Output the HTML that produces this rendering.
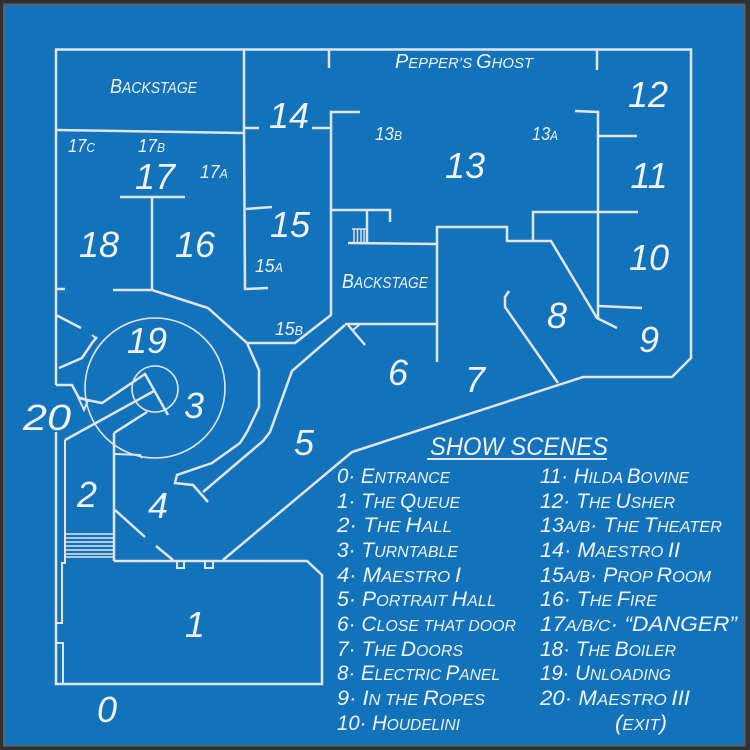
<!DOCTYPE html>
<html><head><meta charset="utf-8"><style>
html,body{margin:0;padding:0;background:#2f3133;}
svg{display:block;}
</style></head><body>
<svg width="750" height="750" viewBox="0 0 750 750" xmlns="http://www.w3.org/2000/svg">
<rect width="750" height="750" fill="#2f3133"/>
<rect x="3" y="3.5" width="742.5" height="743" fill="#5c6166"/>
<rect x="5" y="5.5" width="739" height="739.5" fill="#1273ba"/>

<g fill="none" stroke="#e2e5e8" stroke-width="2.5" stroke-linejoin="miter">
  <!-- outer wall -->
  <polyline points="56,385 56,49.5 691,49.5 691,358 672,377 583,377 352,452 223,560"/>
  <polyline points="56,432 56,684 322,684 322,575 307,561 114,561"/>
  <polyline points="65,440 65,563 62,563 62,623 56,623" stroke-width="2"/>
  <polyline points="56,643 63,643 63,684" stroke-width="2"/>
  <line x1="114" y1="433" x2="114" y2="561"/>
  <!-- stairs room 2 -->
  <g stroke-width="1.4">
    <line x1="65" y1="534" x2="114" y2="534"/>
    <line x1="65" y1="538" x2="114" y2="538"/>
    <line x1="65" y1="542" x2="114" y2="542"/>
    <line x1="65" y1="546" x2="114" y2="546"/>
    <line x1="65" y1="550" x2="114" y2="550"/>
    <line x1="65" y1="554" x2="114" y2="554"/>
    <line x1="65" y1="557" x2="114" y2="557"/>
  </g>
  <!-- room 1 notches -->
  <polyline points="177,561 177,568 184,568 184,561" stroke-width="2"/>
  <polyline points="205,561 205,568 213,568 213,561" stroke-width="2"/>
  <!-- room 4 diagonals -->
  <line x1="115" y1="510" x2="145" y2="537"/>
  <line x1="156" y1="546" x2="173" y2="560"/>
  <polyline points="115,454 140,455 142,458" stroke-width="2"/>
  <!-- curve around 19 -->
  <polyline points="113,290 152,290 208,308 247,343 259,370 259,407 247,432 240,443 212,463 177,475 175,483 193,485 208,502"/>
  <!-- 13 left wall / 15b -->
  <polyline points="360,112 331,112 331,315 295,343 247,343"/>
  <line x1="245" y1="128" x2="259" y2="128"/>
  <line x1="312" y1="128" x2="331" y2="128"/>
  <polyline points="244,49.5 244,131 245,289 268,288"/>
  <line x1="56" y1="130" x2="244" y2="133"/>
  <line x1="246" y1="209" x2="272" y2="207"/>
  <line x1="329" y1="49.5" x2="329" y2="68"/>
  <line x1="597" y1="49.5" x2="597" y2="70"/>
  <!-- 17 T -->
  <line x1="120" y1="197" x2="185" y2="197"/>
  <line x1="152" y1="197" x2="152" y2="290"/>
  <line x1="56" y1="289" x2="65" y2="289"/>
  <line x1="56" y1="315" x2="81" y2="328"/>
  <polyline points="59,368 82,358 92,343 97,337"/>
  <line x1="92" y1="335" x2="97" y2="339" stroke-width="2"/>
  <!-- 20 area / turntable arm -->
  <polyline points="56,385 72,385 79,398 87,400 102,403 145,374 168,415"/>
  <polygon points="78,397 88,400 84,410" stroke-width="2"/>
  <line x1="65" y1="440" x2="154" y2="391"/>
  <line x1="114" y1="433" x2="147" y2="412"/>
  <circle cx="155" cy="388" r="70" stroke-width="1.6"/>
  <circle cx="155" cy="389" r="23" stroke-width="1.6"/>
  <!-- room 5 left wall -->
  <polyline points="345,325 292,371 270,432 263,441 203,492"/>
  <line x1="348" y1="325" x2="365" y2="345"/>
  <line x1="360" y1="324" x2="352" y2="331" stroke-width="2"/>
  <!-- backstage 2 -->
  <line x1="345" y1="324" x2="437" y2="324"/>
  <line x1="348" y1="243" x2="437" y2="244"/>
  <polyline points="332,210 390,210 390,222"/>
  <line x1="367" y1="210" x2="367" y2="243"/>
  <g stroke-width="1.4">
    <line x1="352" y1="229" x2="366" y2="229"/>
    <line x1="354" y1="229" x2="354" y2="243"/>
    <line x1="357.5" y1="229" x2="357.5" y2="243"/>
    <line x1="361" y1="229" x2="361" y2="243"/>
    <line x1="364" y1="229" x2="364" y2="243"/>
  </g>
  <!-- room 7 / 8 / 9 -->
  <polyline points="437,362 437,227 507,227 507,241 551,241 597,318 617,328"/>
  <polyline points="533,241 533,212 638,212"/>
  <polyline points="575,111 598,112 598,318"/>
  <line x1="598" y1="136" x2="637" y2="136"/>
  <line x1="599" y1="306" x2="642" y2="308"/>
  <polyline points="509,291 505,297 505,307 558,383"/>
  <!-- legend underline -->
  <line x1="427" y1="459" x2="607" y2="459" stroke-width="2"/>
</g>

<g fill="#f0f2f4" font-family="'Liberation Sans', sans-serif" font-style="italic">
  <!-- big room numbers -->
  <g font-size="36" text-anchor="middle">
    <text x="289" y="128">14</text>
    <text x="290" y="237">15</text>
    <text x="99" y="257">18</text>
    <text x="195" y="257">16</text>
    <text x="155" y="189">17</text>
    <text x="465" y="178">13</text>
    <text x="648" y="107">12</text>
    <text x="649" y="188">11</text>
    <text x="649" y="270">10</text>
    <text x="649" y="352">9</text>
    <text x="557" y="328">8</text>
    <text x="398" y="385">6</text>
    <text x="475" y="392">7</text>
    <text x="147" y="353">19</text>
    <text x="194" y="418">3</text>
    <text x="47" y="430" textLength="48" lengthAdjust="spacingAndGlyphs">20</text>
    <text x="87" y="507">2</text>
    <text x="158" y="518">4</text>
    <text x="304" y="455">5</text>
    <text x="195" y="637">1</text>
    <text x="107" y="722">0</text>
  </g>
  <!-- small sub labels -->
  <g font-size="18">
    <text x="375" y="140" textLength="27" lengthAdjust="spacingAndGlyphs">13<tspan font-size="13">B</tspan></text>
    <text x="532" y="140" textLength="26" lengthAdjust="spacingAndGlyphs">13<tspan font-size="13">A</tspan></text>
    <text x="255" y="272" textLength="28" lengthAdjust="spacingAndGlyphs">15<tspan font-size="13">A</tspan></text>
    <text x="275" y="335" textLength="28" lengthAdjust="spacingAndGlyphs">15<tspan font-size="13">B</tspan></text>
    <text x="68" y="152" textLength="27" lengthAdjust="spacingAndGlyphs">17<tspan font-size="13">C</tspan></text>
    <text x="138" y="152" textLength="27" lengthAdjust="spacingAndGlyphs">17<tspan font-size="13">B</tspan></text>
    <text x="200" y="178" textLength="28" lengthAdjust="spacingAndGlyphs">17<tspan font-size="13">A</tspan></text>
  </g>
  <g font-size="20">
    <text x="110" y="93" textLength="87" lengthAdjust="spacingAndGlyphs">B<tspan font-size="15.5">ACKSTAGE</tspan></text>
    <text x="342" y="288" textLength="86" lengthAdjust="spacingAndGlyphs">B<tspan font-size="15.5">ACKSTAGE</tspan></text>
    <text x="395" y="68" textLength="138" lengthAdjust="spacingAndGlyphs">P<tspan font-size="15">EPPER’S </tspan>G<tspan font-size="15">HOST</tspan></text>
  </g>
  <!-- legend -->
  <text x="430" y="455" font-size="25" textLength="178" lengthAdjust="spacingAndGlyphs">SHOW SCENES</text>
  <g font-size="21">
    <text x="337" y="483" textLength="113" lengthAdjust="spacingAndGlyphs">0· E<tspan font-size="16">NTRANCE</tspan></text>
    <text x="337" y="508" textLength="123" lengthAdjust="spacingAndGlyphs">1· T<tspan font-size="16">HE </tspan>Q<tspan font-size="16">UEUE</tspan></text>
    <text x="337" y="532" textLength="115" lengthAdjust="spacingAndGlyphs">2· T<tspan font-size="16">HE </tspan>H<tspan font-size="16">ALL</tspan></text>
    <text x="337" y="557" textLength="121" lengthAdjust="spacingAndGlyphs">3· T<tspan font-size="16">URNTABLE</tspan></text>
    <text x="337" y="582" textLength="124" lengthAdjust="spacingAndGlyphs">4· M<tspan font-size="16">AESTRO </tspan>I</text>
    <text x="337" y="606" textLength="159" lengthAdjust="spacingAndGlyphs">5· P<tspan font-size="16">ORTRAIT </tspan>H<tspan font-size="16">ALL</tspan></text>
    <text x="337" y="631" textLength="179" lengthAdjust="spacingAndGlyphs">6· C<tspan font-size="16">LOSE THAT DOOR</tspan></text>
    <text x="337" y="656" textLength="126" lengthAdjust="spacingAndGlyphs">7· T<tspan font-size="16">HE </tspan>D<tspan font-size="16">OORS</tspan></text>
    <text x="337" y="680" textLength="163" lengthAdjust="spacingAndGlyphs">8· E<tspan font-size="16">LECTRIC </tspan>P<tspan font-size="16">ANEL</tspan></text>
    <text x="337" y="705" textLength="148" lengthAdjust="spacingAndGlyphs">9· I<tspan font-size="16">N THE </tspan>R<tspan font-size="16">OPES</tspan></text>
    <text x="337" y="730" textLength="123" lengthAdjust="spacingAndGlyphs">10· H<tspan font-size="16">OUDELINI</tspan></text>

    <text x="540" y="483" textLength="149" lengthAdjust="spacingAndGlyphs">11· H<tspan font-size="16">ILDA </tspan>B<tspan font-size="16">OVINE</tspan></text>
    <text x="540" y="508" textLength="135" lengthAdjust="spacingAndGlyphs">12· T<tspan font-size="16">HE </tspan>U<tspan font-size="16">SHER</tspan></text>
    <text x="540" y="532" textLength="182" lengthAdjust="spacingAndGlyphs">13<tspan font-size="16">A/B</tspan>· T<tspan font-size="16">HE </tspan>T<tspan font-size="16">HEATER</tspan></text>
    <text x="540" y="557" textLength="140" lengthAdjust="spacingAndGlyphs">14· M<tspan font-size="16">AESTRO </tspan>II</text>
    <text x="540" y="582" textLength="171" lengthAdjust="spacingAndGlyphs">15<tspan font-size="16">A/B</tspan>· P<tspan font-size="16">ROP </tspan>R<tspan font-size="16">OOM</tspan></text>
    <text x="540" y="606" textLength="117" lengthAdjust="spacingAndGlyphs">16· T<tspan font-size="16">HE </tspan>F<tspan font-size="16">IRE</tspan></text>
    <text x="540" y="631" textLength="197" lengthAdjust="spacingAndGlyphs">17<tspan font-size="16">A/B/C</tspan>· “DANGER”</text>
    <text x="540" y="656" textLength="136" lengthAdjust="spacingAndGlyphs">18· T<tspan font-size="16">HE </tspan>B<tspan font-size="16">OILER</tspan></text>
    <text x="540" y="680" textLength="131" lengthAdjust="spacingAndGlyphs">19· U<tspan font-size="16">NLOADING</tspan></text>
    <text x="540" y="705" textLength="150" lengthAdjust="spacingAndGlyphs">20· M<tspan font-size="16">AESTRO </tspan>III</text>
    <text x="615" y="730" textLength="52" lengthAdjust="spacingAndGlyphs">(<tspan font-size="16">EXIT</tspan>)</text>
  </g>
</g>
</svg>
</body></html>
